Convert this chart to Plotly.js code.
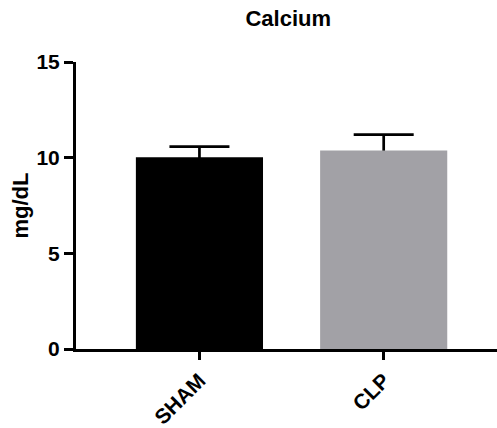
<!DOCTYPE html>
<html>
<head>
<meta charset="utf-8">
<script src="https://cdn.plot.ly/plotly-3.0.1.min.js"></script>
<style>html,body{margin:0;padding:0;background:#fff;}#chart{width:497px;height:428px;}</style>
</head>
<body>
<div id="chart"></div>
<script>
const categories = ["SHAM", "CLP"];
const means = [10.02, 10.37];
const errorsUp = [0.56, 0.83];
const barColors = ["#000000", "#A2A1A6"];
const yTicks = [0, 5, 10, 15];

const FONT = "Liberation Sans, Arial, Helvetica, sans-serif";
const BAR_W = 0.69;

// Error bars drawn first (under the bars) so only the upper half shows.
const errTrace = {
  type: "bar",
  x: categories,
  y: means,
  width: BAR_W,
  marker: {color: "rgba(0,0,0,0)", line: {width: 0}},
  error_y: {
    type: "data",
    symmetric: true,
    array: errorsUp,
    color: "#000000",
    thickness: 2.7,
    width: 30
  },
  hoverinfo: "skip"
};

const barTrace = {
  type: "bar",
  x: categories,
  y: means,
  width: BAR_W,
  marker: {color: barColors, line: {width: 0}},
  hoverinfo: "skip"
};

const layout = {
  width: 497,
  height: 428,
  margin: {l: 76, r: 0, t: 62, b: 79},
  paper_bgcolor: "#ffffff",
  plot_bgcolor: "#ffffff",
  showlegend: false,
  barmode: "overlay",
  title: {
    text: "Calcium",
    font: {family: FONT, size: 22, color: "#000", weight: 700},
    x: 0.58, xanchor: "center",
    y: 0.958, yanchor: "middle", yref: "container"
  },
  xaxis: {
    type: "category",
    range: [-0.67, 1.615],
    showline: true,
    linecolor: "#000",
    linewidth: 3,
    ticks: "outside",
    ticklen: 8,
    tickwidth: 3,
    tickcolor: "#000",
    tickangle: -45,
    tickfont: {family: FONT, size: 21, color: "#000", weight: 700},
    showgrid: false,
    zeroline: false,
    fixedrange: true
  },
  yaxis: {
    range: [0, 15],
    tickvals: yTicks,
    ticktext: yTicks.map(String),
    showline: true,
    linecolor: "#000",
    linewidth: 3,
    ticks: "outside",
    ticklen: 9,
    tickwidth: 3,
    tickcolor: "#000",
    tickfont: {family: FONT, size: 21, color: "#000", weight: 700},
    showgrid: false,
    zeroline: false,
    title: {
      text: "mg/dL",
      font: {family: FONT, size: 22, color: "#000", weight: 700},
      standoff: 2
    },
    fixedrange: true
  }
};

Plotly.newPlot("chart", [errTrace, barTrace], layout, {displayModeBar: false, staticPlot: true});
</script>
</body>
</html>
